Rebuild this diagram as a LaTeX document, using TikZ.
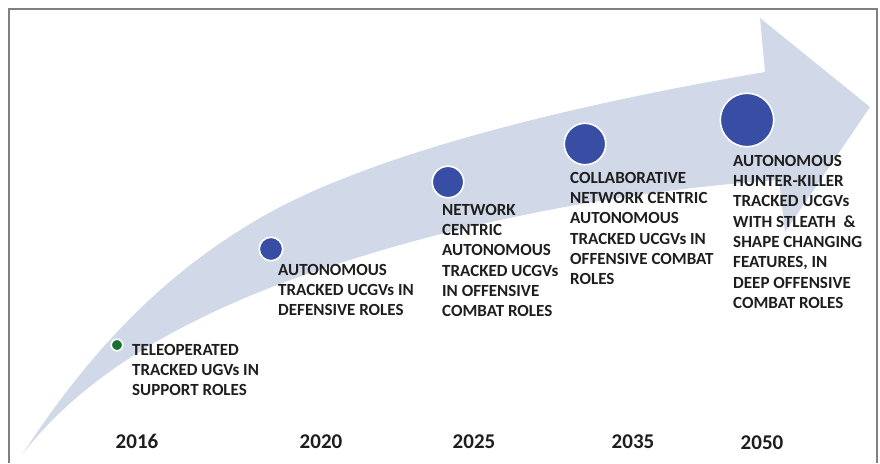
\documentclass[tikz,border=0pt]{standalone}
\usepackage{fontspec}
\setmainfont{Carlito}
\definecolor{bandfill}{RGB}{209,217,232}
\definecolor{dotblue}{RGB}{56,78,164}
\definecolor{dotgreen}{RGB}{24,112,48}
\definecolor{txt}{RGB}{30,30,30}
\definecolor{framegray}{RGB}{128,128,128}
\begin{document}
\begin{tikzpicture}[x=1pt,y=-1pt,
  roadmaplabel/.style={anchor=north west,inner sep=0pt,align=left,text=txt,
    font=\fontsize{17}{20.3}\selectfont\bfseries},
  yearlabel/.style={inner sep=0pt,text=txt,font=\fontsize{21}{24}\selectfont\bfseries},
  milestone/.style={circle,fill=dotblue,draw=white,line width=1.6pt,inner sep=0pt},
]
\useasboundingbox (0,0) rectangle (880,463);

% curved timeline arrow
\coordinate (tail) at (22,455);
\coordinate (notchU) at (765,72);
\coordinate (headU) at (760,18);
\coordinate (tip) at (870,107);
\coordinate (headL) at (785,232);
\coordinate (notchL) at (779,180);
\fill[bandfill] (tail)
  .. controls (90,350) and (170,265) .. (280,207)
  .. controls (400,145) and (600,100) .. (notchU)
  -- (headU) -- (tip) -- (headL) -- (notchL)
  .. controls (660,188) and (500,212) .. (350,260)
  .. controls (220,300) and (92,362) .. (tail) -- cycle;

% frame
\draw[framegray,line width=1.6pt] (9,463) -- (9,9) -- (877,9) -- (877,463);

% milestones
\node[milestone,fill=dotgreen,minimum size=11.5pt] (m2016) at (117,345) {};
\node[milestone,minimum size=23.5pt] (m2020) at (271,249) {};
\node[milestone,minimum size=31.5pt] (m2025) at (448,182) {};
\node[milestone,minimum size=41.5pt] (m2035) at (585,144) {};
\node[milestone,minimum size=53.5pt] (m2050) at (747,120) {};

% descriptions
\node[roadmaplabel] (d2016) at (132,344) {TELEOPERATED\\TRACKED UGVs IN\\SUPPORT ROLES};
\node[roadmaplabel] (d2020) at (278,264) {AUTONOMOUS\\TRACKED UCGVs IN\\DEFENSIVE ROLES};
\node[roadmaplabel] (d2025) at (442,204) {NETWORK\\CENTRIC\\AUTONOMOUS\\TRACKED UCGVs\\IN OFFENSIVE\\COMBAT ROLES};
\node[roadmaplabel] (d2035) at (570,172) {COLLABORATIVE\\NETWORK CENTRIC\\AUTONOMOUS\\TRACKED UCGVs IN\\OFFENSIVE COMBAT\\ROLES};
\node[roadmaplabel] (d2050) at (733,155) {AUTONOMOUS\\HUNTER-KILLER\\TRACKED UCGVs\\WITH STLEATH \ \&\\SHAPE CHANGING\\FEATURES, IN\\DEEP OFFENSIVE\\COMBAT ROLES};

% years
\node[yearlabel] (y2016) at (137,441) {2016};
\node[yearlabel] (y2020) at (321,442) {2020};
\node[yearlabel] (y2025) at (474,442) {2025};
\node[yearlabel] (y2035) at (633,442) {2035};
\node[yearlabel] (y2050) at (762,443) {2050};
\end{tikzpicture}
\end{document}
